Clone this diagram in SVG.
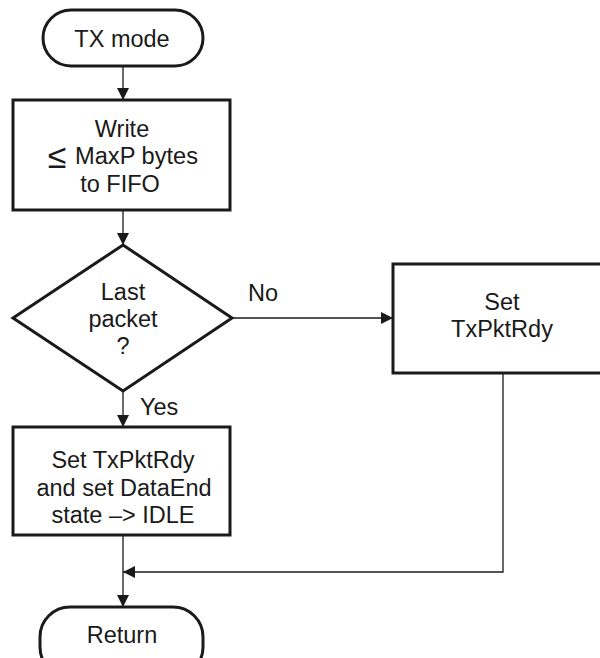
<svg xmlns="http://www.w3.org/2000/svg" width="600" height="658" viewBox="0 0 600 658">
<style>
.shape{fill:#fff;stroke:#1a1a1a;stroke-width:3}
.conn{fill:none;stroke:#1a1a1a;stroke-width:1.3}
text{font-family:"Liberation Sans",Arial,sans-serif;font-size:23.5px;fill:#1a1a1a;text-anchor:middle}
.lbl{text-anchor:start}
</style>
<defs>
<marker id="ah" viewBox="0 0 12 12" refX="12" refY="6" markerWidth="12" markerHeight="12" markerUnits="userSpaceOnUse" orient="auto">
<path d="M0,0 L12,6 L0,12 Z" fill="#1a1a1a"/>
</marker>
</defs>
<rect width="600" height="658" fill="#fff"/>
<g id="connectors">
<line class="conn" x1="123" y1="66" x2="123" y2="100" marker-end="url(#ah)"/>
<line class="conn" x1="123" y1="210" x2="123" y2="245" marker-end="url(#ah)"/>
<line class="conn" x1="232" y1="318" x2="393" y2="318" marker-end="url(#ah)"/>
<line class="conn" x1="123" y1="391" x2="123" y2="427" marker-end="url(#ah)"/>
<line class="conn" x1="123" y1="535" x2="123" y2="607" marker-end="url(#ah)"/>
<polyline class="conn" points="503,373 503,572 123,572" marker-end="url(#ah)"/>
<text class="lbl" x="248" y="301">No</text>
<text class="lbl" x="140" y="415">Yes</text>
</g>
<g id="tx-mode">
<rect class="shape" x="43" y="10" width="160" height="56" rx="28" ry="28"/>
<text x="122" y="47">TX mode</text>
</g>
<g id="write">
<rect class="shape" x="13" y="100" width="217" height="110"/>
<text x="122" y="137">Write</text>
<text x="57" y="168" style="font-size:34px;font-family:'DejaVu Sans',sans-serif;font-weight:200">≤</text>
<text class="lbl" x="75" y="164" textLength="123" lengthAdjust="spacingAndGlyphs">MaxP bytes</text>
<text x="120" y="192">to FIFO</text>
</g>
<g id="last-packet">
<polygon class="shape" points="123,245 232,318 123,391 13,318"/>
<text x="123" y="300">Last</text>
<text x="123" y="327">packet</text>
<text x="123" y="354">?</text>
</g>
<g id="set-txpktrdy">
<rect class="shape" x="393" y="264" width="220" height="109"/>
<text x="502" y="310">Set</text>
<text x="502" y="337">TxPktRdy</text>
</g>
<g id="set-dataend">
<rect class="shape" x="13" y="427" width="217" height="108"/>
<text x="123" y="468">Set TxPktRdy</text>
<text x="124" y="496">and set DataEnd</text>
<text x="123" y="523">state –&gt; IDLE</text>
</g>
<g id="return">
<rect class="shape" x="40" y="607" width="163" height="70" rx="30" ry="30"/>
<text x="122" y="643">Return</text>
</g>
</svg>
